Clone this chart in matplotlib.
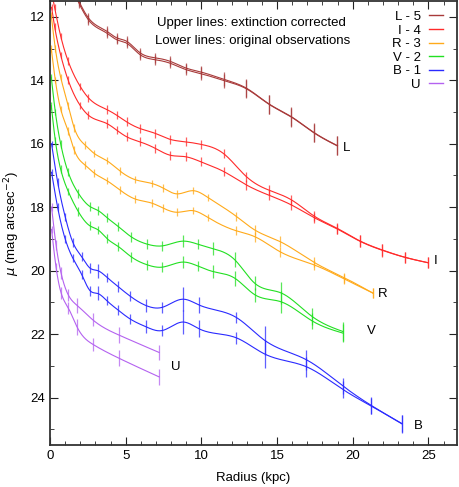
import numpy as np
import matplotlib.pyplot as plt
from matplotlib.ticker import MultipleLocator
from matplotlib.lines import Line2D

plt.rcParams['font.family'] = ['Liberation Sans', 'DejaVu Sans']

# L - 5
l_r = [1.5, 1.9, 2.53, 3.74, 4.40, 5.06, 5.94, 6.93, 7.92, 8.96, 9.97, 11.49, 12.98, 14.48, 15.95, 17.45, 18.99]
l_up = [11.1, 11.5, 12.03, 12.45, 12.66, 12.77, 13.13, 13.29, 13.40, 13.61, 13.74, 13.97, 14.25, 14.75, 15.15, 15.65, 16.06]
l_lo = [11.16, 11.56, 12.09, 12.51, 12.72, 12.83, 13.19, 13.35, 13.46, 13.66, 13.79, 14.01, 14.27, 14.76, 15.16, 15.66, 16.07]
l_err = [0.15, 0.15, 0.16, 0.16, 0.15, 0.16, 0.16, 0.16, 0.16, 0.16, 0.2, 0.22, 0.29, 0.3, 0.3, 0.29, 0.3]

# I - 4
i_r = [0.1, 0.3, 0.7, 1.2, 2.0, 2.53, 3.74, 4.40, 5.06, 5.94, 6.93, 7.92, 8.96, 9.97, 11.49, 12.98,
       14.45, 15.95, 17.45, 18.99, 20.46, 21.96, 23.45, 24.97]
i_up = [11.2, 11.7, 12.6, 13.4, 14.2, 14.55, 14.92, 15.10, 15.31, 15.52, 15.67, 15.86, 15.94, 16.02, 16.32, 17.04,
        17.46, 17.77, 18.28, 18.67, 19.06, 19.35, 19.58, 19.75]
i_lo = [11.7, 12.3, 13.2, 14.0, 14.8, 15.1, 15.36, 15.57, 15.78, 15.94, 16.14, 16.36, 16.41, 16.57, 16.88, 17.30,
        17.62, 17.93, 18.33, 18.69, 19.07, 19.36, 19.58, 19.75]
i_err = [0.1, 0.1, 0.1, 0.12, 0.12, 0.12, 0.14, 0.12, 0.14, 0.14, 0.14, 0.14, 0.14, 0.14, 0.14, 0.16,
         0.16, 0.16, 0.16, 0.16, 0.18, 0.2, 0.18, 0.18]

# R - 3
r_r = [0.08, 0.35, 0.7, 1.2, 1.6, 2.31, 2.93, 3.74, 4.62, 5.61, 6.71, 7.48, 8.36, 9.46, 10.45, 12.28, 13.53,
       15.18, 17.45, 19.43, 21.34]
r_up = [11.95, 13.0, 13.9, 14.8, 15.5, 16.04, 16.31, 16.53, 16.86, 17.13, 17.25, 17.40, 17.58, 17.48, 17.70, 18.28,
        18.72, 19.08, 19.74, 20.22, 20.71]
r_lo = [13.0, 14.0, 14.9, 15.6, 16.2, 16.67, 16.93, 17.16, 17.46, 17.74, 17.87, 18.03, 18.16, 18.11, 18.33, 18.74,
        18.93, 19.40, 19.82, 20.26, 20.71]
r_err = [0.1, 0.1, 0.1, 0.12, 0.12, 0.12, 0.12, 0.12, 0.14, 0.12, 0.12, 0.12, 0.12, 0.12, 0.12, 0.14,
         0.16, 0.16, 0.16, 0.16, 0.16]

# V - 2
v_r = [0.08, 0.35, 0.7, 1.2, 1.87, 2.64, 3.19, 3.74, 4.51, 5.35, 6.38, 7.41, 8.80, 9.79, 10.78, 12.21, 13.53,
       15.25, 17.3, 19.36]
v_up = [13.9, 15.0, 16.0, 16.9, 17.56, 17.98, 18.11, 18.32, 18.61, 18.93, 19.16, 19.22, 19.07, 19.17, 19.31, 19.66,
        20.40, 20.70, 21.44, 21.92]
v_lo = [14.8, 15.9, 16.8, 17.5, 18.14, 18.59, 18.72, 18.98, 19.24, 19.56, 19.81, 19.89, 19.73, 19.86, 20.03, 20.24,
        20.76, 20.98, 21.58, 21.97]
v_err = [0.1, 0.1, 0.12, 0.12, 0.14, 0.14, 0.14, 0.14, 0.14, 0.16, 0.16, 0.16, 0.2, 0.16, 0.2, 0.24,
         0.22, 0.34, 0.26, 0.29]

# B - 1
b_r = [0.1, 0.5, 1.0, 1.5, 2.09, 2.64, 3.15, 3.76, 4.49, 5.28, 6.34, 7.39, 8.78, 9.83, 12.32, 14.19, 16.94,
       19.36, 21.23, 23.25]
b_up = [16.0, 17.2, 18.3, 19.1, 19.56, 19.92, 20.0, 20.21, 20.50, 20.80, 21.10, 21.16, 20.90, 21.08, 21.48, 22.20,
        22.81, 23.64, 24.25, 24.82]
b_lo = [16.9, 18.0, 19.0, 19.6, 20.12, 20.63, 20.72, 20.95, 21.24, 21.52, 21.77, 21.89, 21.62, 21.83, 22.12, 22.63,
        23.03, 23.75, 24.27, 24.83]
b_err = [0.1, 0.12, 0.12, 0.14, 0.14, 0.16, 0.22, 0.14, 0.16, 0.16, 0.2, 0.18, 0.37, 0.26, 0.18, 0.45,
         0.31, 0.26, 0.26, 0.28]

# U
u_r = [0.1, 0.4, 0.73, 1.21, 1.8, 2.82, 4.55, 7.21]
u_up = [18.0, 19.2, 20.08, 20.77, 21.1, 21.55, 22.03, 22.58]
u_lo = [18.7, 19.9, 20.7, 21.18, 21.79, 22.32, 22.76, 23.35]
u_err = [0.12, 0.15, 0.18, 0.2, 0.25, 0.2, 0.25, 0.25]

bands = [
    ('L - 5', 'L', '#a83a3a', l_r, l_up, l_lo, l_err, (19.6, 16.15)),
    ('I - 4', 'I', '#ff2a2a', i_r, i_up, i_lo, i_err, (25.5, 19.7)),
    ('R - 3', 'R', '#ffaa1a', r_r, r_up, r_lo, r_err, (22.0, 20.75)),
    ('V - 2', 'V', '#22e022', v_r, v_up, v_lo, v_err, (21.2, 21.9)),
    ('B - 1', 'B', '#2a2aff', b_r, b_up, b_lo, b_err, (24.3, 24.9)),
    ('U', 'U', '#b462f0', u_r, u_up, u_lo, u_err, (8.3, 23.05)),
]


def csplines(x, y, n=500):
    # natural cubic spline, like gnuplot's "smooth csplines"
    x = np.asarray(x, float)
    y = np.asarray(y, float)
    m = len(x)
    h = np.diff(x)
    A = np.zeros((m, m))
    rhs = np.zeros(m)
    A[0, 0] = A[-1, -1] = 1
    for i in range(1, m - 1):
        A[i, i - 1] = h[i - 1]
        A[i, i] = 2 * (h[i - 1] + h[i])
        A[i, i + 1] = h[i]
        rhs[i] = 3 * ((y[i + 1] - y[i]) / h[i] - (y[i] - y[i - 1]) / h[i - 1])
    c = np.linalg.solve(A, rhs)
    xs = np.linspace(x[0], x[-1], n)
    k = np.clip(np.searchsorted(x, xs) - 1, 0, m - 2)
    dx = xs - x[k]
    b = (y[k + 1] - y[k]) / h[k] - h[k] * (2 * c[k] + c[k + 1]) / 3
    d = (c[k + 1] - c[k]) / (3 * h[k])
    return xs, y[k] + b * dx + c[k] * dx ** 2 + d * dx ** 3


fig = plt.figure(figsize=(4.59, 4.87), dpi=100)
ax = fig.add_axes([0.109, 0.086, 0.887, 0.912])

handles = []
for label, short, color, r, up, lo, err, lpos in bands:
    for mu in (up, lo):
        xs, ys = csplines(r, mu)
        ax.plot(xs, ys, color=color, lw=0.8)
        ax.errorbar(r, mu, yerr=err, fmt='none', ecolor=color, elinewidth=0.9, capsize=0, alpha=0.75)
    ax.text(lpos[0], lpos[1], short, fontsize=9.5, ha='center', va='center')
    handles.append(Line2D([], [], color=color, lw=1.0, label=label))

ax.set_xlim(0, 26.9)
ax.set_ylim(25.5, 11.5)
ax.xaxis.set_major_locator(MultipleLocator(5))
ax.xaxis.set_minor_locator(MultipleLocator(1))
ax.yaxis.set_major_locator(MultipleLocator(2))
ax.yaxis.set_minor_locator(MultipleLocator(1))
ax.tick_params(which='both', direction='in', top=True, right=True, labelsize=9.5, color='#222222')
ax.tick_params(which='major', length=6)
ax.tick_params(which='minor', length=3)
for s in ax.spines.values():
    s.set_linewidth(1.3)
    s.set_color('#333333')

ax.set_xlabel('Radius (kpc)', fontsize=9.5, labelpad=7)
ax.set_ylabel(r'$\mu$ (mag arcsec$^{-2}$)', fontsize=9.5, labelpad=6)

ax.text(0.263, 0.95, 'Upper lines: extinction corrected', transform=ax.transAxes,
        fontsize=9.5, va='center')
ax.text(0.258, 0.91, 'Lower lines: original observations', transform=ax.transAxes,
        fontsize=9.5, va='center')

ax.legend(handles=handles, loc='upper right', bbox_to_anchor=(0.99, 1.0), frameon=False,
          markerfirst=False, fontsize=9.5, handlelength=1.1, handletextpad=0.6,
          labelspacing=0.1, borderaxespad=0.35)

fig.savefig('out.png', dpi=100)
